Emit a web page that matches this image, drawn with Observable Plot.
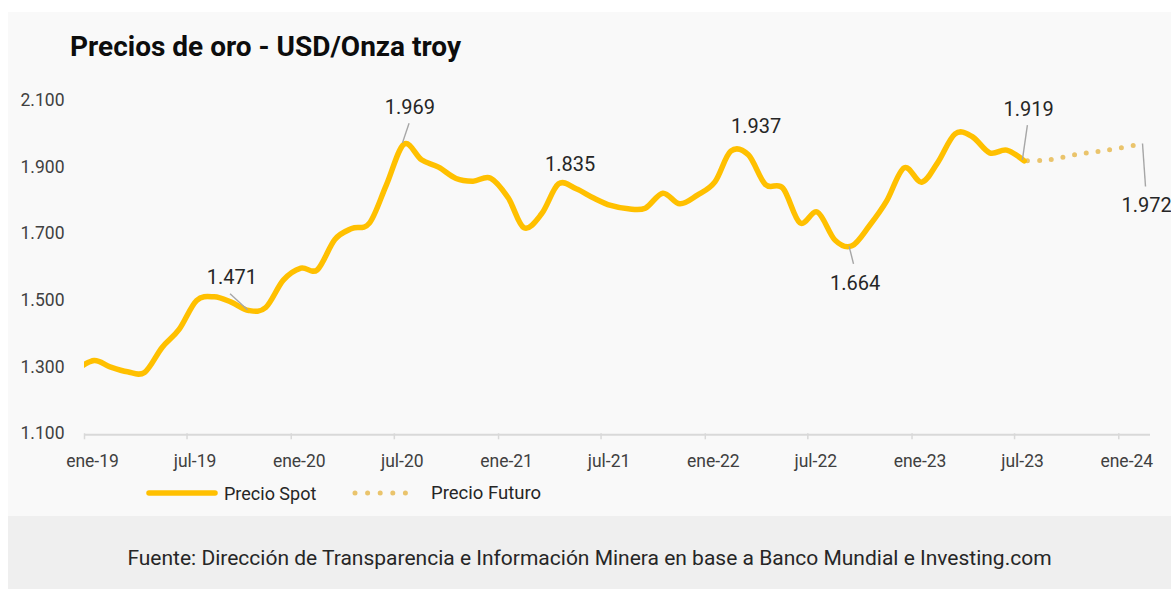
<!DOCTYPE html>
<html><head><meta charset="utf-8">
<script src="https://cdn.jsdelivr.net/npm/d3@7"></script>
<script src="https://cdn.jsdelivr.net/npm/@observablehq/plot@0.6"></script>
<style>
html,body{margin:0;padding:0;background:#fff;}
body{width:1171px;height:589px;position:relative;overflow:hidden;font-family:Roboto,"Noto Sans",sans-serif;}
#panel{position:absolute;left:8px;top:12px;width:1163px;height:504px;background:#f9f9f9;}
#footer{position:absolute;left:8px;top:516px;width:1163px;height:73px;background:#efefef;color:#262626;font-size:21px;text-align:center;line-height:84px;white-space:nowrap;}
#title{position:absolute;left:70px;top:33px;font-size:28px;line-height:28px;font-weight:700;color:#0d0d0d;white-space:nowrap;}
#chart{position:absolute;left:0;top:0;}
#legend{position:absolute;left:0;top:470px;}
</style></head>
<body>
<div id="panel"></div>
<div id="title">Precios de oro - USD/Onza troy</div>
<div id="chart"></div>
<svg id="legend" width="1171" height="46"></svg>
<div id="footer"></div>
<script>
// ---- data ----
const spotStart = "2019-01-01";
const spotValues = [1292,1320,1301,1286,1284,1359,1413,1500,1511,1495,1470,1479,
  1561,1597,1592,1683,1716,1732,1847,1969,1922,1900,1866,1858,
  1867,1808,1718,1760,1850,1835,1808,1785,1775,1777,1822,1790,
  1816,1856,1948,1937,1848,1837,1733,1765,1681,1664,1725,1798,
  1898,1855,1913,2000,1992,1943,1951,1919];
const futuroDates = ["2023-08-01","2023-09-01","2023-10-01","2023-11-01","2023-12-01","2024-01-01","2024-02-10"];
const futuroValues = [1919,1920,1927,1938,1945,1953,1965];
const tickLabels = ["ene-19","jul-19","ene-20","jul-20","ene-21","jul-21","ene-22","jul-22","ene-23","jul-23","ene-24"];
const yTicks = [1100,1300,1500,1700,1900,2100];
const labelDates = ["2019-11-01","2020-08-01","2021-06-01","2022-04-01","2022-10-01","2023-08-01","2024-02-10"];
const labelTexts = ["1.471","1.969","1.835","1.937","1.664","1.919","1.972"];
const seriesNames = ["Precio Spot","Precio Futuro"];
const sourceText = "Fuente: Dirección de Transparencia e Información Minera en base a Banco Mundial e Investing.com";

// ---- tables ----
const startDate = new Date(spotStart + "T00:00:00Z");
const spot = spotValues.map((v, i) => ({date: d3.utcMonth.offset(startDate, i), value: v}));
const futuro = futuroDates.map((d, i) => ({date: new Date(d + "T00:00:00Z"), value: futuroValues[i]}));
const allPts = spot.concat(futuro);
const labels = labelDates.map((d, i) => {
  const dt = new Date(d + "T00:00:00Z");
  const p = allPts.find(q => +q.date === +dt);
  return {date: dt, value: p.value, text: labelTexts[i]};
});

// ---- layout (pixel offsets of labels and leader lines relative to their point) ----
const labelOffsets = [[-17,-33],[6,-36.5],[-6,-24.5],[7.7,-28],[3,38],[4.5,-51],[13,60]];
const leaderOffsets = [[[-18.7,-16.7],[-1.3,-0.7]], [[5.1,-20.9],[-1.5,-1.3]], null, null,
  [[-2.9,0.5],[1.5,18.1]], [[3.2,-35.7],[-1.8,-1]], [[9,-2],[12,41]]];

const xDomain = [new Date(Date.UTC(2019,0,15)), new Date(Date.UTC(2024,2,11))];
const tickDates = tickLabels.map((l, k) => d3.utcMonth.offset(xDomain[0], 6 * k));
const W = 1171, H = 516, mL = 84, mR = 21, mT = 100, mB = 82.7;
const xs = Plot.scale({x: {type: "utc", domain: xDomain, range: [mL, W - mR]}});
const ys = Plot.scale({y: {type: "linear", domain: [1100, 2100], range: [H - mB, mT]}});

const loc = d3.formatLocale({decimal: ",", thousands: ".", grouping: [3], currency: ["$", ""]});
const fmt = loc.format(",.0f");

const leaders = [];
labels.forEach((l, i) => {
  const o = leaderOffsets[i];
  if (!o) return;
  const px = xs.apply(l.date), py = ys.apply(l.value);
  leaders.push({
    x1: xs.invert(px + o[0][0]), y1: ys.invert(py + o[0][1]),
    x2: xs.invert(px + o[1][0]), y2: ys.invert(py + o[1][1])
  });
});

const SPOT = "#FFC000", FUT = "#EAC46C", TXT = "#262626", AX = "#404040";

const chart = Plot.plot({
  width: W, height: H,
  marginLeft: mL, marginRight: mR, marginTop: mT, marginBottom: mB,
  style: {background: "transparent", fontFamily: "Roboto, 'Noto Sans', sans-serif", overflow: "visible"},
  x: {type: "utc", domain: xDomain, axis: null},
  y: {type: "linear", domain: [1100, 2100], axis: null},
  marks: [
    Plot.axisY({ticks: yTicks, tickSize: 0, tickPadding: 20, tickFormat: fmt, fontSize: 17.5, fill: AX, label: null}),
    Plot.ruleY([1100], {stroke: "#d9d9d9", strokeWidth: 2, dy: 1}),
    Plot.axisX({ticks: tickDates, tickSize: 6, tickFormat: () => "", stroke: "#d9d9d9", strokeWidth: 1.5, label: null}),
    Plot.axisX({ticks: tickDates, tickSize: 0, tickPadding: 20.5, dx: 8, fontSize: 17.5, fill: AX, label: null,
      tickFormat: d => tickLabels[tickDates.findIndex(t => +t === +d)]}),
    Plot.line(futuro, {x: "date", y: "value", stroke: FUT, strokeWidth: 5, curve: "cardinal",
      strokeDasharray: "0 11.85", strokeDashoffset: 8.4, strokeLinecap: "round", clip: true}),
    Plot.line(spot, {x: "date", y: "value", stroke: SPOT, strokeWidth: 5.5, curve: "cardinal",
      strokeLinejoin: "round", strokeLinecap: "round", clip: true}),
    Plot.link(leaders, {x1: "x1", y1: "y1", x2: "x2", y2: "y2", stroke: "#a6a6a6", strokeWidth: 1.4}),
    ...labels.map((l, i) => Plot.text([l], {x: "date", y: "value", text: "text",
      dx: labelOffsets[i][0], dy: labelOffsets[i][1], fontSize: 20, fill: TXT, textAnchor: "middle"}))
  ]
});
document.getElementById("chart").appendChild(chart);

// legend
const lg = d3.select("#legend");
lg.append("line").attr("x1", 149).attr("x2", 215).attr("y1", 23).attr("y2", 23)
  .attr("stroke", SPOT).attr("stroke-width", 5.5).attr("stroke-linecap", "round");
lg.append("text").attr("x", 224).attr("y", 23).attr("dominant-baseline", "central")
  .attr("font-size", 18).attr("fill", TXT).attr("font-family", "Roboto, sans-serif").text(seriesNames[0]);
lg.append("line").attr("x1", 355).attr("x2", 418).attr("y1", 23).attr("y2", 23)
  .attr("stroke", FUT).attr("stroke-width", 5).attr("stroke-linecap", "round").attr("stroke-dasharray", "0 12.6");
lg.append("text").attr("x", 431).attr("y", 23).attr("dominant-baseline", "central")
  .attr("font-size", 18.5).attr("fill", TXT).attr("font-family", "Roboto, sans-serif").text(seriesNames[1]);
document.getElementById("footer").textContent = sourceText;
</script>
</body></html>
